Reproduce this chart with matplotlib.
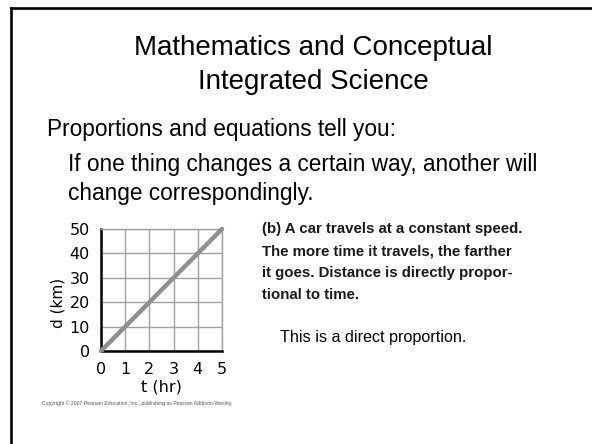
import matplotlib
matplotlib.use("Agg")
import matplotlib.pyplot as plt
from matplotlib.lines import Line2D

W, H = 592, 444

t_hr = [0, 1, 2, 3, 4, 5]
d_km = [0, 10, 20, 30, 40, 50]
x_ticks = [0, 1, 2, 3, 4, 5]
y_ticks = [0, 10, 20, 30, 40, 50]

title_lines = ["Mathematics and Conceptual", "Integrated Science"]
lead = "Proportions and equations tell you:"
sub_lines = ["If one thing changes a certain way, another will",
             "change correspondingly."]
caption = ["(b) A car travels at a constant speed.",
           "The more time it travels, the farther",
           "it goes. Distance is directly propor-",
           "tional to time."]
note = "This is a direct proportion."
copyright_txt = "Copyright \u00a9 2007 Pearson Education, Inc., publishing as Pearson Addison-Wesley."


def fx(px):
    return px / W


def fy(py):
    return 1 - py / H


fig = plt.figure(figsize=(W / 100, H / 100), dpi=100)
fig.patch.set_facecolor("white")

# slide frame (left and top edges visible)
fig.add_artist(Line2D([fx(11), fx(11)], [fy(8.5), fy(460)], color="black", lw=1.9))
fig.add_artist(Line2D([fx(11), fx(610)], [fy(8.5), fy(8.5)], color="black", lw=1.9))

sans = "Liberation Sans"
fig.text(fx(313), fy(55), title_lines[0], fontsize=20, family=sans, ha="center", va="baseline")
fig.text(fx(313), fy(89), title_lines[1], fontsize=20, family=sans, ha="center", va="baseline")
fig.text(fx(47), fy(136), lead, fontsize=16.3, family=sans, ha="left", va="baseline")
fig.text(fx(68), fy(171), sub_lines[0], fontsize=16.3, family=sans, ha="left", va="baseline")
fig.text(fx(68), fy(200), sub_lines[1], fontsize=16.3, family=sans, ha="left", va="baseline")

for i, line in enumerate(caption):
    fig.text(fx(262), fy(229 + 22 * i), line, fontsize=10.8, family=sans,
             weight="bold", color="#1a1a1a", ha="left", va="center")
fig.text(fx(280), fy(337), note, fontsize=11.6, family=sans, ha="left", va="center")
fig.text(fx(137.5), fy(403), copyright_txt, fontsize=3.7, family=sans,
         color="#555555", ha="center", va="center")

# distance vs time graph
ax = fig.add_axes([fx(101), fy(351), fx(222) - fx(101), (351 - 229) / H])
ax.plot(t_hr, d_km, color="#8f8f8f", lw=3.2, solid_capstyle="round", clip_on=False, zorder=3)
ax.set_xlim(0, 5)
ax.set_ylim(0, 50)
ax.set_xticks(x_ticks)
ax.set_yticks(y_ticks)
ax.grid(True, color="#a0a0a0", lw=1.0)
ax.set_axisbelow(True)
ax.tick_params(length=0, labelsize=11.5, pad=8)
for s in ("top", "right"):
    ax.spines[s].set_color("#a0a0a0")
    ax.spines[s].set_linewidth(1.0)
for s in ("left", "bottom"):
    ax.spines[s].set_color("black")
    ax.spines[s].set_linewidth(1.8)
ax.set_xlabel("t (hr)", fontsize=11.5, labelpad=2)
ax.set_ylabel("d (km)", fontsize=11, labelpad=3, y=0.39)

fig.savefig("out.png", dpi=100)
